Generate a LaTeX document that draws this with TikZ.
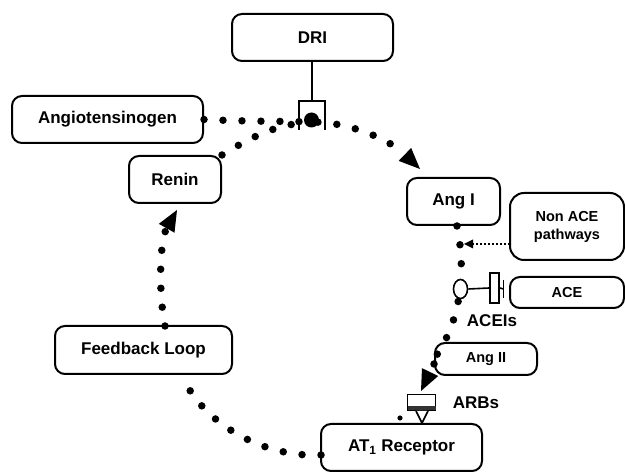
\documentclass[tikz,border=0pt]{standalone}
\usepackage{fontspec}
\setmainfont{Liberation Sans}
\usetikzlibrary{arrows.meta,shapes.geometric,calc}
\begin{document}
\begin{tikzpicture}[x=1pt,y=-1pt,
  box/.style={draw, line width=2pt, rounded corners=10pt, inner sep=0pt, align=center,
    font=\bfseries\fontsize{17}{19}\selectfont},
  smallbox/.style={box, font=\bfseries\fontsize{14.5}{18}\selectfont},
  lbl/.style={font=\bfseries\fontsize{17}{19}\selectfont, inner sep=0pt},
  dotline/.style={line width=7.5pt, line cap=round, dash pattern=on 0pt off 19pt},
  bigtip/.style={-{Triangle[length=21pt,width=18pt,line width=0pt]}},
  thinline/.style={line width=1.6pt}
]
\fill[white] (0,0) rectangle (625,473);
\useasboundingbox (0,0) rectangle (625,473);

% boxes
\node[box,minimum width=161pt,minimum height=47pt] (dri) at (312.5,37.5) {DRI};
\node[box,minimum width=191pt,minimum height=47pt] (angt) at (107.5,119.5) {Angiotensinogen};
\node[box,minimum width=92pt,minimum height=47pt] (renin) at (175,179.5) {Renin};
\node[box,minimum width=93pt,minimum height=47pt] (angI) at (453.5,201.5) {Ang I};
\node[smallbox,minimum width=114pt,minimum height=67pt,rounded corners=14pt] (nonace) at (567,226.5) {Non ACE\\pathways};
\node[smallbox,minimum width=114pt,minimum height=31pt] (ace) at (567,292.5) {ACE};
\node[smallbox,minimum width=102pt,minimum height=32pt] (angII) at (486,359) {Ang II};
\node[box,minimum width=177pt,minimum height=48pt] (fb) at (143.5,350) {Feedback Loop};
\node[box,minimum width=161pt,minimum height=47pt] (at1) at (401.5,447.5) {AT\textsubscript{1} Receptor};

\node[lbl] (aceis) at (492,321) {ACEIs};
\node[lbl] (arbs) at (476,403) {ARBs};

% coordinates
\coordinate (drip) at (312,122);
\coordinate (angItip) at (420,169);
\coordinate (angIs) at (457,226);
\coordinate (arbtip) at (421,391);
\coordinate (at1w) at (321,455);
\coordinate (fbs) at (182,375);
\coordinate (fbn) at (165,326);
\coordinate (renintip) at (177,210);
\coordinate (nonacestart) at (510,244);
\coordinate (nonacetip) at (464,244);

% dotted pathways
\draw[dotline,bigtip] (angt.east) .. controls (260,122) and (290,121) .. (drip)
   .. controls (350,122) and (390,140) .. (angItip);
\draw[dotline] (renin.north east) .. controls (250,138) and (275,124) .. (drip);
\draw[dotline] (angIs) .. controls (466,270) and (462,320) .. (angII.west);
\draw[dotline,bigtip] ([yshift=-5pt]angII.west) -- (arbtip);
\draw[dotline] (at1w) .. controls (260,458) and (200,420) .. (fbs);
\draw[dotline,bigtip] (fbn) .. controls (158,290) and (160,240) .. (renintip);
\draw[line width=2pt, dash pattern=on 2pt off 2pt,
      -{Triangle[length=9pt,width=9pt,line width=0pt]}] (nonacestart) -- (nonacetip);

% DRI inhibitor
\coordinate (drib) at (311.5,101);
\draw[line width=2pt] (dri.south -| drib) -- (drib);
\draw[line width=2.8pt] (299,130) -- (299,101) -- (325,101) -- (325,130);
\fill (311.5,120) circle (7.5pt);

% ACE inhibitor
\node[draw, ellipse, fill=white, thinline, minimum width=14pt, minimum height=19pt, inner sep=0pt] (acei) at (460.5,289) {};
\node[draw, fill=white, thinline, minimum width=9pt, minimum height=30pt, inner sep=0pt] (acer) at (494.5,288) {};
\coordinate (acebar) at (503.5,289);
\draw[thinline] (acei.east) -- (acer.west);
\draw[thinline] (acer.east) -- (acebar);
\draw[thinline] ([yshift=9pt]acebar) -- ([yshift=-9pt]acebar);

% ARB block
\node[draw, thinline, fill=white, minimum width=28pt, minimum height=16pt, inner sep=0pt] (arb) at (421.5,402.5) {};
\fill[black!80] ([xshift=0.8pt,yshift=0.8pt]arb.south west) rectangle ([xshift=-0.8pt,yshift=5pt]arb.south east);
\draw[thinline, fill=white] (416,411) -- (422,423) -- (428,411);
\fill (400,418) circle (2.6pt);
\end{tikzpicture}
\end{document}
